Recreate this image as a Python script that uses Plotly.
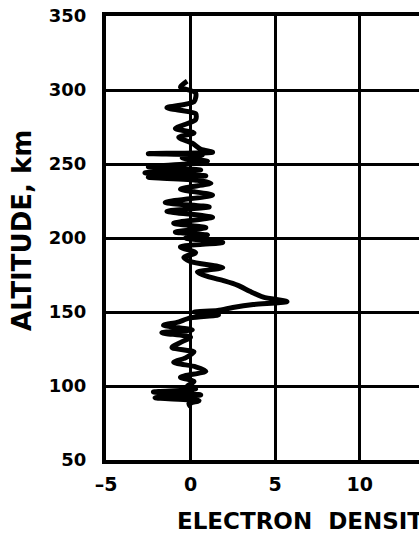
import plotly.graph_objects as go

# Electron density profile
altitude_km = [306, 302, 298, 292, 288, 284, 280, 276, 274, 271, 268, 264, 260, 258,
               257, 256, 254, 252, 250, 248, 246, 244, 242, 241, 239, 237, 233, 229,
               224, 221, 218, 214, 210, 207, 204, 202, 200, 197, 194, 190, 187, 184,
               180, 177, 174, 171, 168, 164, 160, 157, 155, 153, 151, 150, 148, 146,
               143, 141, 138, 136, 133, 130, 126, 123, 119, 116, 113, 110, 106, 103,
               100, 98, 96, 94, 92, 90, 88, 86]
electron_density = [-0.2, -0.6, 0.3, 0.2, -1.4, 0.3, 0.3, -0.5, -0.9, 0.2, -0.7, 0.1, 0.6, 1.3,
                    -2.5, 0.7, -0.5, 1.0, -0.3, -2.5, 0.6, -2.7, 0.9, -2.5, 0.4, 1.2, -0.6, 1.3,
                    -1.5, 1.1, -1.4, 1.3, -1.0, 0.9, -0.9, 1.0, -0.3, 1.9, -0.6, 0.3, -0.4, 0.0,
                    1.9, 0.4, 1.0, 2.0, 2.8, 3.5, 4.3, 5.7, 3.7, 2.5, 1.6, 0.2, 1.65, 0.0,
                    -0.8, -1.6, 0.1, -1.7, 0.0, -0.5, -1.1, 0.2, -0.3, -1.0, 0.3, 0.9, -0.6, 0.2,
                    -0.2, 0.3, -2.2, 0.6, -2.1, 0.5, -0.1, 0.0]

x_ticks = [-5, 0, 5, 10, 15]
y_ticks = [50, 100, 150, 200, 250, 300, 350]

FONT = "DejaVu Sans"

fig = go.Figure()
fig.add_trace(go.Scatter(
    x=electron_density, y=altitude_km, mode="lines",
    line=dict(color="black", width=5, shape="spline", smoothing=0.7),
    showlegend=False,
))

fig.update_layout(
    width=419, height=538,
    margin=dict(l=106, r=0, t=16, b=78),
    paper_bgcolor="white", plot_bgcolor="white",
    xaxis=dict(
        range=[-5, 13.5], tickvals=x_ticks, ticktext=[str(v).replace("-", "\u2013") for v in x_ticks],
        showgrid=True, gridcolor="black", gridwidth=3,
        showline=True, linecolor="black", linewidth=4, mirror=True,
        zeroline=False, ticks="", ticklabelstandoff=4,
        tickfont=dict(family=FONT, size=19, color="black", weight="bold"),
    ),
    yaxis=dict(
        range=[50, 350], tickvals=y_ticks,
        showgrid=True, gridcolor="black", gridwidth=3,
        showline=True, linecolor="black", linewidth=4, mirror=False,
        zeroline=False, ticks="", ticklabelstandoff=12,
        tickfont=dict(family=FONT, size=18, color="black", weight="bold"),
    ),
    annotations=[
        dict(text="ALTITUDE, km", xref="paper", yref="paper",
             x=(22 - 106) / 313, y=(460 - 231) / 444, textangle=-90,
             showarrow=False, xanchor="center", yanchor="middle",
             font=dict(family=FONT, size=26, color="black", weight="bold")),
        dict(text="ELECTRON\u00a0\u00a0DENSITY", xref="paper", yref="paper",
             x=(175 - 106) / 313, y=(460 - 521) / 444,
             showarrow=False, xanchor="left", yanchor="middle",
             font=dict(family=FONT, size=23, color="black", weight="bold")),
    ],
)

fig.write_html("out.html")
